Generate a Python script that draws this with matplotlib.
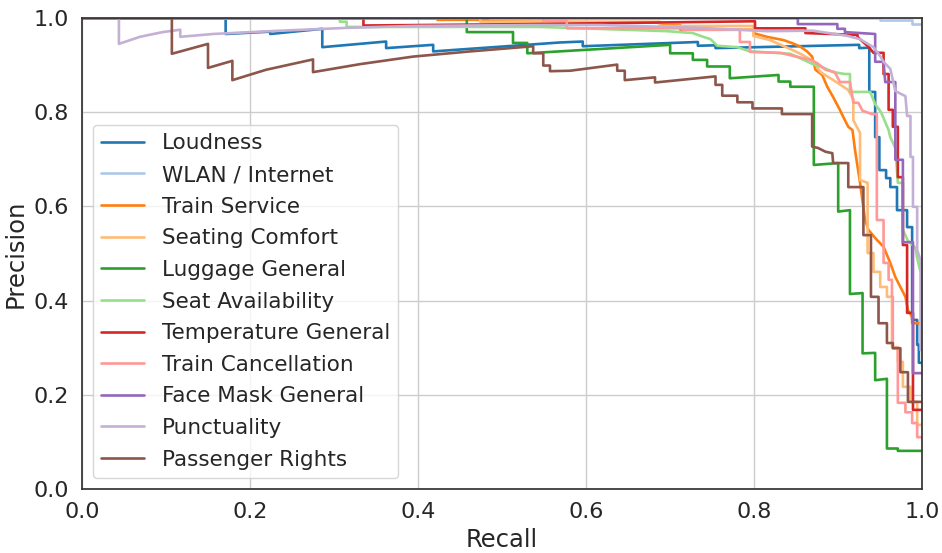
import matplotlib
matplotlib.use("Agg")
import matplotlib.pyplot as plt
import seaborn as sns

# Precision / recall curve vertices per class
loudness_r = [0, .171, .171, .224, .224, .286, .286, .362, .362, .418, .418, .569, .596, .596, .733, .733, .754, .754,
              .925, .925, .937, .937, .944, .944, .949, .949, .957, .957, .962, .962, .970, .970, .982, .982, .988, .988,
              .994, .994, .996, .996, 1.0]
loudness_p = [1, 1, .966, .971, .966, .977, .938, .950, .936, .943, .929, .948, .950, .940, .949, .941, .942, .936,
              .943, .936, .937, .843, .843, .747, .747, .677, .677, .660, .660, .641, .641, .592, .592, .556, .556, .359,
              .359, .306, .306, .268, .268]

wlan_r = [0, .950, .950, .988, .988, 1.0]
wlan_p = [1, 1, .996, .996, .988, .988]

service_r = [0, .423, .423, .483, .483, .688, .688, .712, .712, .799, .799, .815, .835, .846, .855, .863, .869, .873,
             .881, .887, .894, .902, .906, .912, .917, .920, .926, .932, .936, .946, .954, .962, .968, .974, .980, .983,
             .988, .988, 1.0]
service_p = [1, 1, .996, .996, .993, .990, .985, .985, .975, .975, .968, .960, .953, .946, .939, .929, .918, .890,
             .879, .854, .832, .805, .790, .769, .762, .720, .650, .571, .550, .529, .514, .480, .450, .429, .408, .380,
             .365, .352, .352]

seating_r = [0, .474, .474, .688, .688, .799, .799, .819, .843, .855, .870, .879, .896, .912, .918, .918, .926, .926,
             .935, .935, .942, .942, .950, .950, .958, .958, .964, .964, .971, .971, .977, .977, .986, .986, .994, .994,
             1.0]
seating_p = [1, 1, .992, .992, .983, .983, .962, .953, .934, .924, .909, .885, .866, .847, .828, .783, .756, .656,
             .650, .501, .501, .461, .461, .429, .429, .408, .408, .301, .301, .270, .270, .217, .217, .185, .185, .136,
             .136]

luggage_r = [0, .458, .458, .513, .513, .530, .530, .700, .700, .727, .727, .744, .744, .771, .771, .829, .829, .843,
             .843, .871, .871, .900, .900, .914, .914, .929, .929, .944, .944, .958, .958, .971, .971, 1.0]
luggage_p = [1, 1, .970, .970, .947, .947, .925, .943, .925, .925, .911, .911, .897, .897, .872, .879, .865, .865,
             .854, .854, .688, .692, .589, .592, .414, .416, .288, .289, .231, .234, .086, .086, .081, .081]

seat_r = [0, .307, .307, .315, .315, .545, .696, .727, .736, .748, .756, .780, .795, .815, .843, .870, .882, .894,
          .908, .914, .914, .938, .944, .951, .960, .962, .968, .971, .977, .977, .983, .992, .994, .998, 1.0]
seat_p = [1, 1, .992, .992, .981, .981, .972, .968, .962, .955, .941, .938, .929, .927, .924, .902, .895, .885,
          .881, .881, .843, .843, .817, .800, .762, .747, .724, .650, .650, .550, .527, .512, .490, .461, .459]

temp_r = [0, .335, .335, .533, .801, .801, .861, .861, .923, .923, .929, .936, .942, .954, .954, .960, .960, .965,
          .965, .971, .971, .977, .977, .982, .982, .989, .989, 1.0]
temp_p = [1, 1, .984, .987, .993, .978, .978, .968, .964, .960, .950, .939, .926, .926, .881, .881, .805, .805,
          .769, .769, .662, .662, .518, .518, .374, .374, .168, .168]

cancel_r = [0, .549, .549, .577, .577, .715, .715, .783, .783, .795, .795, .831, .843, .867, .875, .885, .896, .902,
            .914, .918, .924, .929, .940, .946, .946, .954, .954, .960, .960, .964, .964, .965, .965, .971, .971, .980,
            .980, .988, .988, .994, .994, 1.0]
cancel_p = [1, 1, .994, .994, .978, .978, .975, .975, .949, .949, .928, .926, .921, .911, .904, .890, .885, .864,
            .864, .820, .820, .803, .796, .796, .571, .571, .480, .480, .444, .444, .408, .408, .299, .299, .183, .183,
            .163, .163, .140, .140, .110, .110]

mask_r = [0, .852, .852, .899, .899, .908, .908, .944, .944, .954, .956, .968, .968, .977, .977, .989, .989, 1.0]
mask_p = [1, 1, .987, .987, .977, .977, .970, .966, .907, .907, .864, .864, .699, .699, .524, .524, .246, .246]

punct_r = [0, .044, .044, .069, .096, .117, .117, .156, .224, .315, .394, .533, .617, .736, .815, .870, .911, .926,
           .942, .950, .954, .962, .968, .980, .982, .986, .986, .989, .989, .994, .994, .998, .998, 1.0]
punct_p = [1, 1, .945, .960, .970, .975, .960, .966, .972, .979, .983, .985, .985, .979, .972, .973, .962, .955,
           .938, .919, .907, .892, .845, .834, .792, .792, .705, .705, .599, .599, .507, .486, .295, .295]

rights_r = [0, .107, .107, .150, .150, .179, .179, .219, .275, .275, .331, .394, .462, .537, .537, .549, .549, .557,
            .557, .581, .637, .637, .646, .646, .682, .682, .754, .754, .762, .762, .780, .780, .798, .798, .833, .833,
            .869, .869, .876, .885, .893, .894, .912, .912, .930, .930, .939, .939, .948, .948, .958, .958, .965, .965,
            .974, .974, .983, .983, 1.0]
rights_p = [1, 1, .924, .945, .894, .909, .868, .890, .912, .885, .902, .918, .929, .940, .925, .925, .899, .899,
            .887, .888, .901, .888, .888, .868, .874, .863, .876, .858, .858, .835, .835, .821, .821, .808, .808, .796,
            .796, .727, .724, .716, .713, .692, .692, .641, .641, .539, .539, .408, .408, .352, .352, .310, .310, .299,
            .299, .248, .248, .185, .185]

labels = ["Loudness", "WLAN / Internet", "Train Service", "Seating Comfort", "Luggage General",
          "Seat Availability", "Temperature General", "Train Cancellation", "Face Mask General",
          "Punctuality", "Passenger Rights"]
curves = [(loudness_r, loudness_p), (wlan_r, wlan_p), (service_r, service_p), (seating_r, seating_p),
          (luggage_r, luggage_p), (seat_r, seat_p), (temp_r, temp_p), (cancel_r, cancel_p),
          (mask_r, mask_p), (punct_r, punct_p), (rights_r, rights_p)]

sns.set_theme(style="whitegrid", font_scale=1.45)
plt.rcParams.update({"xtick.labelsize": 16, "ytick.labelsize": 16,
                     "legend.fontsize": 15.5, "axes.labelsize": 17.5})
colors = plt.get_cmap("tab20").colors

fig, ax = plt.subplots(figsize=(9.42, 5.53), dpi=100)
fig.subplots_adjust(left=0.087, right=0.979, top=0.9675, bottom=0.1157)

for i, (label, (r, p)) in enumerate(zip(labels, curves)):
    ax.plot(r, p, color=colors[i], label=label, linewidth=1.9)

ax.set_xlim(0, 1)
ax.set_ylim(0, 1)
ax.set_xticks([0, 0.2, 0.4, 0.6, 0.8, 1.0])
ax.set_yticks([0, 0.2, 0.4, 0.6, 0.8, 1.0])
ax.set_xlabel("Recall")
ax.set_ylabel("Precision")
for spine in ax.spines.values():
    spine.set_color("0.2")
ax.legend(loc="lower left", labelspacing=0.54)

fig.savefig("out.png", dpi=100)
